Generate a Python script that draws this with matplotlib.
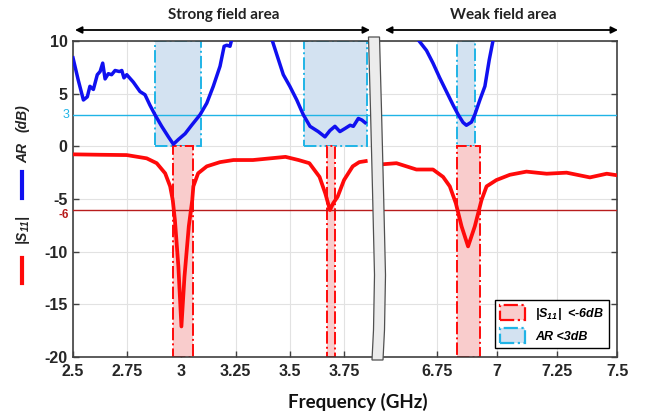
import numpy as np
import matplotlib
matplotlib.use("Agg")
import matplotlib.pyplot as plt
from matplotlib.patches import Polygon, Rectangle, Patch, FancyArrowPatch
from matplotlib.lines import Line2D

plt.rcParams['font.family'] = 'Liberation Sans'
plt.rcParams['mathtext.fontset'] = 'custom'
plt.rcParams['mathtext.bf'] = 'Liberation Sans:italic:bold'
plt.rcParams['mathtext.it'] = 'Liberation Sans:italic:bold'
plt.rcParams['mathtext.rm'] = 'Liberation Sans:italic:bold'

# axial ratio, strong field band (2.5 - 3.9 GHz)
f_ar_lo = [2.500, 2.524, 2.548, 2.566, 2.578, 2.594, 2.612, 2.625, 2.637, 2.648,
           2.663, 2.678, 2.694, 2.714, 2.725, 2.735, 2.748, 2.778, 2.809, 2.832,
           2.855, 2.878, 2.909, 2.940, 2.963, 2.986, 3.017, 3.047, 3.086, 3.117,
           3.147, 3.178, 3.197, 3.209, 3.224, 3.234, np.nan, 3.415, 3.440, 3.470,
           3.500, 3.532, 3.562, 3.593, 3.631, 3.662, 3.685, 3.708, 3.731, 3.755,
           3.778, 3.793, 3.816, 3.832, 3.847]
ar_lo = [8.4, 6.3, 4.4, 4.7, 5.7, 5.4, 6.8, 7.1, 7.9, 6.4,
         6.9, 6.8, 7.2, 7.1, 7.2, 6.5, 6.8, 6.1, 5.2, 4.9,
         3.9, 3.0, 1.9, 0.9, 0.2, 0.65, 1.2, 2.0, 3.0, 4.1,
         5.7, 7.6, 9.5, 9.6, 9.5, 10.3, np.nan, 10.3, 8.7, 6.8,
         5.7, 4.4, 3.0, 1.9, 1.4, 0.9, 1.5, 1.9, 1.4, 1.7,
         2.0, 1.9, 2.65, 2.5, 2.25]

# axial ratio, weak field band (6.5 - 7.5 GHz)
f_ar_hi = [6.665, 6.706, 6.733, 6.761, 6.789, 6.817, 6.838, 6.858, 6.872, 6.893,
           6.907, 6.928, 6.949, 6.967, 6.985]
ar_hi = [10.3, 9.1, 7.9, 6.5, 5.2, 3.9, 3.0, 2.27, 2.0, 2.3,
         3.0, 4.4, 5.7, 8.2, 10.3]

# |S11|
f_s11_lo = [2.500, 2.625, 2.748, 2.840, 2.886, 2.925, 2.948, 2.960, 2.970, 2.986,
            3.000, 3.014, 3.034, 3.050, 3.055, 3.077, 3.117, 3.178, 3.240, 3.330,
            3.480, 3.540, 3.590, 3.637, 3.664, 3.685, 3.700, 3.720, 3.750, 3.790,
            3.820, 3.850]
s11_lo = [-0.76, -0.8, -0.83, -1.14, -1.6, -2.56, -3.8, -5.1, -7.0, -11.4,
          -17.1, -12.4, -7.6, -5.1, -3.8, -2.56, -1.9, -1.5, -1.3, -1.3,
          -1.0, -1.3, -1.6, -2.9, -4.5, -6.05, -5.4, -4.8, -3.2, -1.9,
          -1.5, -1.4]
f_s11_hi = [6.525, 6.581, 6.664, 6.733, 6.775, 6.803, 6.828, 6.852, 6.879, 6.907,
            6.935, 6.956, 6.997, 7.053, 7.122, 7.206, 7.289, 7.386, 7.456, 7.500]
s11_hi = [-1.7, -1.6, -2.2, -2.2, -2.9, -3.8, -5.4, -7.6, -9.5, -7.6,
          -5.1, -3.8, -3.2, -2.7, -2.4, -2.6, -2.5, -2.95, -2.6, -2.75]

ar_limit = 3
s11_limit = -6
ar_bands_lo = [(2.878, 3.090), (3.566, 3.855)]
ar_bands_hi = [(6.833, 6.907)]
s11_bands_lo = [(2.960, 3.052), (3.670, 3.708)]
s11_bands_hi = [(6.831, 6.928)]

xt_lo = [2.5, 2.75, 3, 3.25, 3.5, 3.75]
xt_hi = [6.75, 7, 7.25, 7.5]
yt = [10, 5, 0, -5, -10, -15, -20]

BLUE = '#1010f0'
RED = '#ff0a0a'
CYAN = '#20b4e6'
DARKRED = '#b81c1c'
AR_FILL = '#d3e2f1'
S11_FILL = '#f9cccc'
SPINE = '#404040'

W, H = 649, 419
fig = plt.figure(figsize=(W / 100, H / 100), dpi=100)

def fx(px):
    return px / W

def fy(py):
    return 1 - py / H

top, bot = 41, 357
ax1 = fig.add_axes([fx(73), fy(bot), fx(377 - 73), (bot - top) / H])
ax2 = fig.add_axes([fx(377), fy(bot), fx(617.3 - 377), (bot - top) / H])

def draw_side(ax, f_ar, ar, f_s, s, ar_bands, s_bands, xlim, xt):
    for a, b in ar_bands:
        ax.add_patch(Rectangle((a, 0), b - a, 10, facecolor=AR_FILL, edgecolor=CYAN,
                               ls='-.', lw=1.4, zorder=2))
    for a, b in s_bands:
        ax.add_patch(Rectangle((a, -20), b - a, 20, facecolor=S11_FILL, edgecolor=RED,
                               ls='-.', lw=1.4, zorder=2))
    ax.axhline(ar_limit, color=CYAN, lw=1.0, zorder=3)
    ax.axhline(s11_limit, color=DARKRED, lw=1.0, zorder=3)
    ax.plot(f_ar, ar, color=BLUE, lw=2.5, zorder=4)
    ax.plot(f_s, s, color=RED, lw=2.7, zorder=4)
    ax.set_xlim(*xlim)
    ax.set_ylim(-20, 10)
    ax.set_xticks(xt)
    ax.set_xticklabels([('%g' % v) for v in xt], fontweight='bold')
    ax.set_yticks(yt)
    ax.set_yticklabels([('%g' % v) for v in yt], fontweight='bold')
    ax.grid(True, color='#e2e2e2', lw=0.8, zorder=0)
    ax.set_axisbelow(True)
    ax.tick_params(axis='both', direction='in', length=4, width=1, color=SPINE,
                   labelsize=11.5, labelcolor='#262626', pad=4)
    ax.tick_params(axis='x', pad=5)
    for sp in ax.spines.values():
        sp.set_color(SPINE)
        sp.set_linewidth(1.2)

draw_side(ax1, f_ar_lo, ar_lo, f_s11_lo, s11_lo, ar_bands_lo, s11_bands_lo,
          (2.5, 3.902), xt_lo)
draw_side(ax2, f_ar_hi, ar_hi, f_s11_hi, s11_hi, ar_bands_hi, s11_bands_hi,
          (6.5, 7.5), xt_hi)
ax1.spines['right'].set_visible(False)
ax2.spines['left'].set_visible(False)
ax2.yaxis.tick_right()
ax2.tick_params(axis='y', labelright=False)

# threshold values next to the y axis
ax1.text(-0.012, ar_limit, '%d' % ar_limit, transform=ax1.get_yaxis_transform(),
         ha='right', va='center', color=CYAN, fontsize=9)
ax1.text(-0.012, s11_limit - 0.5, '%d' % s11_limit, transform=ax1.get_yaxis_transform(),
         ha='right', va='center', color=DARKRED, fontsize=8.5, weight='bold')

# axis break
left_edge = [(368.5, 37), (370.5, 110), (372.5, 190), (374.5, 275), (373.5, 330), (372, 360)]
right_edge = [(x + 11, y) for x, y in left_edge][::-1]
pts = [(fx(x), fy(y)) for x, y in left_edge + right_edge]
fig.add_artist(Polygon(pts, closed=True, facecolor='#ececec', edgecolor='#505050',
                       lw=0.9, transform=fig.transFigure, zorder=10))

# region headers
arrow = dict(arrowstyle='<|-|>', color='black', lw=1.3, mutation_scale=10,
             shrinkA=0, shrinkB=0, transform=fig.transFigure)
fig.add_artist(FancyArrowPatch((fx(75), fy(30)), (fx(370), fy(30)), **arrow))
fig.add_artist(FancyArrowPatch((fx(385), fy(30)), (fx(618), fy(30)), **arrow))
fig.text(fx(224), fy(15), 'Strong field area', ha='center', va='center',
         family='Lato', weight='bold', fontsize=11, color='#222222')
fig.text(fx(503), fy(15), 'Weak field area', ha='center', va='center',
         family='Lato', weight='bold', fontsize=11, color='#222222')

fig.text(fx(358), fy(402), 'Frequency (GHz)', ha='center', va='center',
         family='Lato', weight='bold', fontsize=13.5, color='#111111')

# stacked y label with line keys
fig.text(fx(23), fy(118), '(dB)', rotation=90, ha='center', va='center',
         style='italic', weight='bold', fontsize=10, color='#222222')
fig.text(fx(23), fy(153), 'AR', rotation=90, ha='center', va='center',
         style='italic', weight='bold', fontsize=10, color='#222222')
fig.text(fx(23), fy(230), r'$\mathbf{|S_{11}|}$', rotation=90, ha='center', va='center',
         fontsize=10, color='#222222')
fig.add_artist(Line2D([fx(22), fx(22)], [fy(172), fy(198)], color=BLUE, lw=3,
                      transform=fig.transFigure))
fig.add_artist(Line2D([fx(22), fx(22)], [fy(258), fy(283)], color=RED, lw=3,
                      transform=fig.transFigure))

handles = [Patch(facecolor=S11_FILL, edgecolor=RED, ls='-.', lw=1.6),
           Patch(facecolor=AR_FILL, edgecolor=CYAN, ls='-.', lw=1.6)]
leg = ax2.legend(handles, [r'$\mathbf{|S_{11}|}$  <-6dB', 'AR <3dB'], loc='lower right',
                 bbox_to_anchor=(0.967, 0.0275), borderaxespad=0, fancybox=False,
                 framealpha=1, edgecolor='black', handlelength=2.0, handleheight=1.5,
                 prop=dict(style='italic', weight='bold', size=9))
leg.get_frame().set_linewidth(1.0)

fig.savefig('out.png', dpi=100)
